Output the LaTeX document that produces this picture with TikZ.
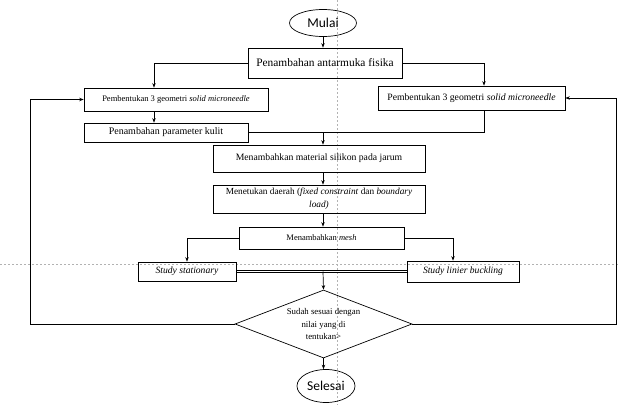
\documentclass[tikz,border=0pt]{standalone}
\usepackage{fontspec}
\setmainfont{Liberation Serif}
\newfontfamily\calibri{Carlito}
\usetikzlibrary{arrows.meta,shapes.geometric}

\begin{document}
\begin{tikzpicture}[x=1pt,y=-1pt,>={Stealth[length=4.5pt,width=3.5pt]},line width=0.7pt,
  box/.style={draw,rectangle,inner sep=1pt,align=center},
  oval/.style={draw,ellipse,inner sep=0pt,font=\calibri\fontsize{13.5}{16}\selectfont},
  guide/.style={black!30,line width=0.4pt,dash pattern=on 2pt off 2pt}]
  \useasboundingbox (0,0) rectangle (619,405);
  % page guides
  \draw[guide] (337,0) -- (337,405);
  \draw[guide] (0,264) -- (619,264);
  % columns of the connectors
  \coordinate (kiri)   at (154,0);
  \coordinate (kanan)  at (484,0);
  \coordinate (tengah) at (323,0);
  \coordinate (kananS) at (453,0);
  \coordinate (batasL) at (30,0);
  \coordinate (batasR) at (616,0);
  % nodes
  \node[oval,minimum width=67pt,minimum height=27pt] (mulai) at (323,23) {Mulai};
  \node[box,minimum width=154pt,minimum height=30pt,font=\fontsize{11.4}{14}\selectfont] (fisika) at (325,63) {Penambahan antarmuka fisika};
  \node[box,minimum width=184pt,minimum height=23pt,font=\fontsize{8.5}{10}\selectfont] (geoL) at (176,99.5) {Pembentukan 3 geometri \textit{solid microneedle}};
  \node[box,minimum width=187pt,minimum height=24pt,font=\fontsize{9.7}{12}\selectfont] (geoR) at (471.5,98) {Pembentukan 3 geometri \textit{solid microneedle}};
  \node[box,minimum width=164pt,minimum height=19pt,font=\fontsize{10}{12}\selectfont] (kulit) at (166,132.5) {Penambahan parameter kulit};
  \node[box,minimum width=212pt,minimum height=27pt,font=\fontsize{9.7}{12}\selectfont] (silikon) at (319,158.5) {Menambahkan material silikon pada jarum};
  \node[box,minimum width=212pt,minimum height=28pt,font=\fontsize{9.3}{13}\selectfont] (daerah) at (319,199) {Menetukan daerah (\textit{fixed constraint} dan \textit{boundary}\\\textit{load)}};
  \node[box,minimum width=165pt,minimum height=22pt,font=\fontsize{8.5}{10}\selectfont] (mesh) at (321.5,238) {Menambahkan \textit{mesh}};
  \node[box,minimum width=98pt,minimum height=19pt,font=\fontsize{9.6}{12}\selectfont] (stat) at (187,271.5) {\textit{Study stationary}};
  \node[box,minimum width=112pt,minimum height=21pt,font=\fontsize{9.6}{12}\selectfont] (buck) at (463,271.5) {\textit{Study linier buckling}};
  \node[draw,diamond,aspect=2.6,inner sep=0pt,minimum width=177pt,minimum height=68pt,align=center,font=\fontsize{8.8}{12.5}\selectfont] (cek) at (323.5,324) {Sudah sesuai dengan\\nilai yang di\\tentukan>};
  \node[oval,minimum width=58pt,minimum height=33pt] (selesai) at (326,386) {Selesai};
  % connectors
  \draw[->] (mulai.south) -- (mulai.south |- fisika.north);
  \draw[->] (fisika.west) -| (kiri |- geoL.north);
  \draw[->] (fisika.east) -| (kanan |- geoR.north);
  \draw[->] (kiri |- geoL.south) -- (kiri |- kulit.north);
  \draw (kanan |- geoR.south) |- (kulit.east);
  \draw[->] (tengah |- kulit.east) -- (tengah |- silikon.north);
  \draw[->] (tengah |- silikon.south) -- (tengah |- daerah.north);
  \draw[->] (tengah |- daerah.south) -- (tengah |- mesh.north);
  \draw[->] (mesh.west) -| (stat.north);
  \draw[->] (mesh.east) -| (kananS |- buck.north);
  \draw ([yshift=-1pt]stat.east) -- ([yshift=-1pt]buck.west);
  \draw ([yshift=1pt]stat.east) -- ([yshift=1pt]buck.west);
  \draw[->] (tengah |- stat.east) -- (cek.north);
  \draw[->] (cek.west) -- (batasL |- cek.west) |- (geoL.west);
  \draw[->] (cek.east) -- (batasR |- cek.east) |- (geoR.east);
  \draw[->] (cek.south) -- (cek.south |- selesai.north);
\end{tikzpicture}
\end{document}
